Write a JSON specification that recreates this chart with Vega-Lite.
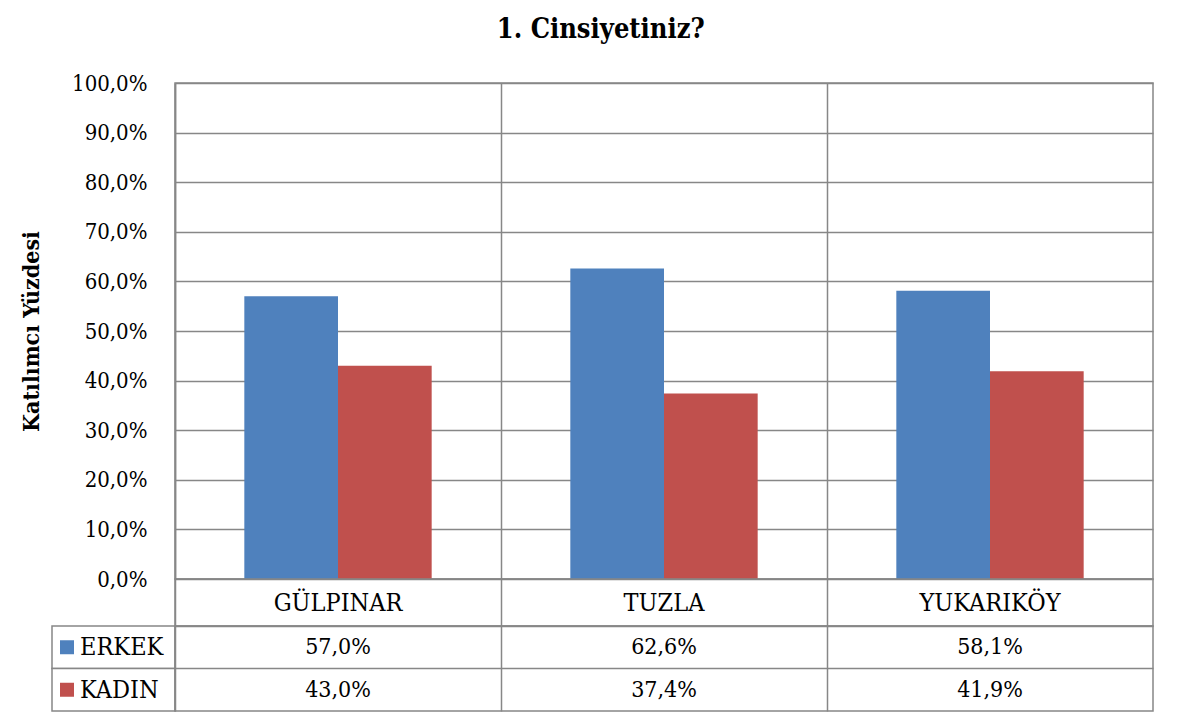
{
  "$schema": "https://vega.github.io/schema/vega-lite/v6.json",
  "background": "white",
  "padding": {"left": 19, "top": 16, "right": 5, "bottom": 5},
  "title": {"text": "1. Cinsiyetiniz?", "fontSize": 27, "fontWeight": "bold", "color": "black", "anchor": "middle", "offset": 27, "dx": 14},
  "datasets": {
    "gender": [
      {"category": "GÜLPINAR", "series": "ERKEK", "value": 0.570},
      {"category": "GÜLPINAR", "series": "KADIN", "value": 0.430},
      {"category": "TUZLA", "series": "ERKEK", "value": 0.626},
      {"category": "TUZLA", "series": "KADIN", "value": 0.374},
      {"category": "YUKARIKÖY", "series": "ERKEK", "value": 0.581},
      {"category": "YUKARIKÖY", "series": "KADIN", "value": 0.419}
    ]
  },
  "columns": 2,
  "spacing": 0,
  "bounds": "flush",
  "concat": [
    {
      "width": 123, "height": 496,
      "view": {"stroke": null},
      "data": {"name": "gender"},
      "transform": [{"filter": "datum.category == 'GÜLPINAR' && datum.series == 'ERKEK'"}],
      "mark": {"type": "text"},
      "encoding": {"text": {"value": ""}}
    },
    {
      "width": 978, "height": 496,
      "data": {"name": "gender"},
      "mark": {"type": "bar"},
      "encoding": {
        "x": {"field": "category", "type": "nominal", "sort": ["GÜLPINAR", "TUZLA", "YUKARIKÖY"],
              "scale": {"type": "band", "paddingInner": 0, "paddingOuter": 0},
              "axis": {"grid": true, "bandPosition": 0, "labels": false, "ticks": false, "domain": false, "title": null}},
        "xOffset": {"field": "series", "type": "nominal", "sort": ["ERKEK", "KADIN"],
                    "scale": {"paddingInner": 0, "paddingOuter": 0.74}},
        "y": {"field": "value", "type": "quantitative",
              "scale": {"domain": [0, 1], "nice": false},
              "axis": {"values": [0, 0.1, 0.2, 0.3, 0.4, 0.5, 0.6, 0.7, 0.8, 0.9, 1.0], "format": ".1%",
                       "title": "Katılımcı Yüzdesi", "titleFontSize": 23, "titleFontWeight": "bold",
                       "labelFontSize": 22, "labelPadding": 28, "ticks": false, "titlePadding": 28, "domain": true}},
        "color": {"field": "series", "type": "nominal",
                  "scale": {"domain": ["ERKEK", "KADIN"], "range": ["#4F81BD", "#C0504D"]}, "legend": null}
      }
    },
    {
      "width": 123, "height": 47,
      "view": {"stroke": null},
      "data": {"name": "gender"},
      "transform": [{"filter": "datum.category == 'GÜLPINAR' && datum.series == 'ERKEK'"}],
      "mark": {"type": "text"},
      "encoding": {"text": {"value": ""}}
    },
    {
      "width": 978, "height": 47,
      "data": {"name": "gender"},
      "transform": [{"filter": "datum.series == 'ERKEK'"}],
      "mark": {"type": "text", "fontSize": 25, "baseline": "middle", "color": "black"},
      "encoding": {
        "x": {"field": "category", "type": "nominal", "sort": ["GÜLPINAR", "TUZLA", "YUKARIKÖY"],
              "scale": {"type": "band", "paddingInner": 0, "paddingOuter": 0},
              "axis": {"grid": true, "bandPosition": 0, "labels": false, "ticks": false, "domain": false, "title": null}},
        "text": {"field": "category"}
      }
    },
    {
      "width": 123, "height": 85,
      "view": {"stroke": null},
      "data": {"name": "gender"},
      "transform": [{"filter": "datum.category == 'GÜLPINAR'"}],
      "layer": [
        {
          "mark": {"type": "rect", "fill": "white", "stroke": "#878787", "strokeWidth": 1.5},
          "encoding": {
            "y": {"field": "series", "type": "nominal", "sort": ["ERKEK", "KADIN"],
                  "scale": {"type": "band", "paddingInner": 0, "paddingOuter": 0}, "axis": null}
          }
        },
        {
          "mark": {"type": "point", "shape": "square", "filled": true, "size": 196, "opacity": 1},
          "encoding": {
            "x": {"datum": "key", "type": "nominal", "scale": {"type": "point", "domain": ["key", "label"], "range": [15, 28], "padding": 0}, "axis": null},
            "y": {"field": "series", "type": "nominal", "sort": ["ERKEK", "KADIN"], "axis": null},
            "color": {"field": "series", "type": "nominal",
                      "scale": {"domain": ["ERKEK", "KADIN"], "range": ["#4F81BD", "#C0504D"]}, "legend": null}
          }
        },
        {
          "mark": {"type": "text", "align": "left", "baseline": "middle", "fontSize": 25, "color": "black"},
          "encoding": {
            "x": {"datum": "label", "type": "nominal", "axis": null},
            "y": {"field": "series", "type": "nominal", "sort": ["ERKEK", "KADIN"], "axis": null},
            "text": {"field": "series"}
          }
        }
      ]
    },
    {
      "width": 978, "height": 85,
      "data": {"name": "gender"},
      "mark": {"type": "text", "fontSize": 23, "baseline": "middle", "color": "black"},
      "encoding": {
        "x": {"field": "category", "type": "nominal", "sort": ["GÜLPINAR", "TUZLA", "YUKARIKÖY"],
              "scale": {"type": "band", "paddingInner": 0, "paddingOuter": 0},
              "axis": {"grid": true, "bandPosition": 0, "labels": false, "ticks": false, "domain": false, "title": null}},
        "y": {"field": "series", "type": "nominal", "sort": ["ERKEK", "KADIN"],
              "scale": {"type": "band", "paddingInner": 0, "paddingOuter": 0},
              "axis": {"grid": true, "bandPosition": 0, "labels": false, "ticks": false, "domain": false, "title": null}},
        "text": {"field": "value", "type": "quantitative", "format": ".1%"}
      }
    }
  ],
  "config": {
    "font": "DejaVu Serif Condensed, DejaVu Serif",
    "view": {"stroke": "#878787", "strokeWidth": 1.5},
    "text": {"font": "DejaVu Serif Condensed, DejaVu Serif"},
    "title": {"font": "DejaVu Serif Condensed, DejaVu Serif"},
    "axis": {"labelFont": "DejaVu Serif Condensed, DejaVu Serif", "titleFont": "DejaVu Serif Condensed, DejaVu Serif",
             "labelColor": "black", "titleColor": "black",
             "gridColor": "#878787", "gridWidth": 1.5, "domainColor": "#878787", "domainWidth": 1.5},
    "locale": {"number": {"decimal": ",", "thousands": ".", "grouping": [3], "currency": ["", " TL"]}}
  }
}
